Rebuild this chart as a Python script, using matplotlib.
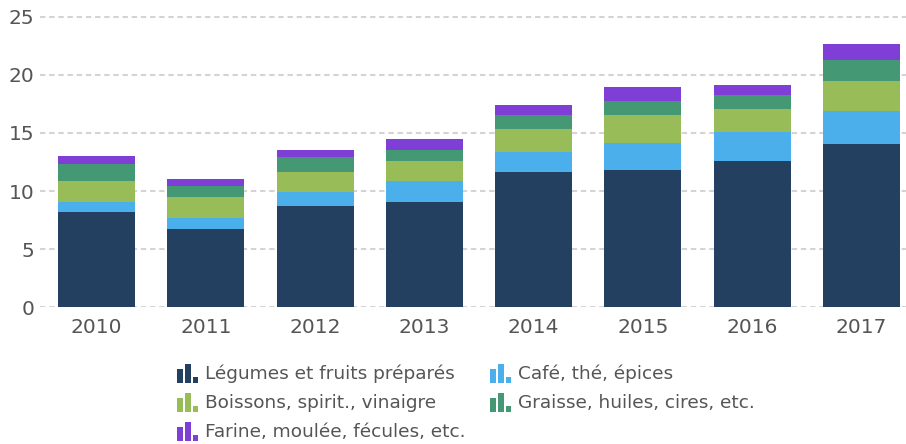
import matplotlib
matplotlib.use("Agg")
import matplotlib.pyplot as plt
from matplotlib.patches import Rectangle
import numpy as np

plt.rcParams['font.family'] = ['DejaVu Sans']

years = ["2010", "2011", "2012", "2013", "2014", "2015", "2016", "2017"]
legumes = [8.19, 6.72, 8.71, 9.05, 11.64, 11.81, 12.59, 14.05]
cafe = [0.86, 0.95, 1.20, 1.81, 1.72, 2.33, 2.50, 2.85]
boissons = [1.81, 1.81, 1.73, 1.73, 1.98, 2.41, 1.98, 2.58]
graisse = [1.47, 0.95, 1.29, 0.94, 1.21, 1.21, 1.21, 1.81]
farine = [0.69, 0.60, 0.60, 0.95, 0.86, 1.21, 0.86, 1.38]

series_names = ["Légumes et fruits préparés", "Café, thé, épices",
                "Boissons, spirit., vinaigre", "Graisse, huiles, cires, etc.",
                "Farine, moulée, fécules, etc."]
series_values = [legumes, cafe, boissons, graisse, farine]
colors = ["#234061", "#4AAFEB", "#98BD58", "#449874", "#7F3ED6"]
yticks = [0, 5, 10, 15, 20, 25]

W, H = 906, 444
fig = plt.figure(figsize=(W / 100, H / 100), dpi=100)
ax = fig.add_axes([40 / W, 1 - 307 / H, 1 - 40 / W, 295.8 / H])

x = np.arange(len(years))
bottom = np.zeros(len(years))
for vals, col, name in zip(series_values, colors, series_names):
    ax.bar(x, vals, width=0.705, bottom=bottom, color=col, label=name, zorder=3, linewidth=0)
    bottom += np.array(vals)

ax.set_xlim(-0.517, 7.407)
ax.set_ylim(0, 25.5)
ax.set_yticks(yticks)
ax.set_xticks(x)
ax.set_xticklabels(years)
ax.tick_params(axis='both', length=0, labelsize=14.5, labelcolor="#555555")
ax.tick_params(axis='x', pad=8)
ax.tick_params(axis='y', pad=4)
for s in ax.spines.values():
    s.set_visible(False)
ax.yaxis.grid(True, color="#d4d4d4", linestyle=(0, (2.6, 1.8)), linewidth=1.5, zorder=0)
ax.set_axisbelow(True)

# Legend drawn manually with bar-chart icons
positions = [(177, 374), (490, 374), (177, 403), (490, 403), (177, 432)]
for (px, py), name, col in zip(positions, series_names, colors):
    bars = [(0, 6, 14), (8, 6, 19), (16, 5, 6)]
    base = py + 9
    for bx, bw, bh in bars:
        fig.add_artist(Rectangle(((px + bx) / W, 1 - base / H), bw / W, bh / H,
                                 transform=fig.transFigure, color=col, linewidth=0))
    fig.text((px + 28) / W, 1 - py / H, name, fontsize=13.3, color="#555555",
             va="center", ha="left")

fig.savefig("out.png", dpi=100)
